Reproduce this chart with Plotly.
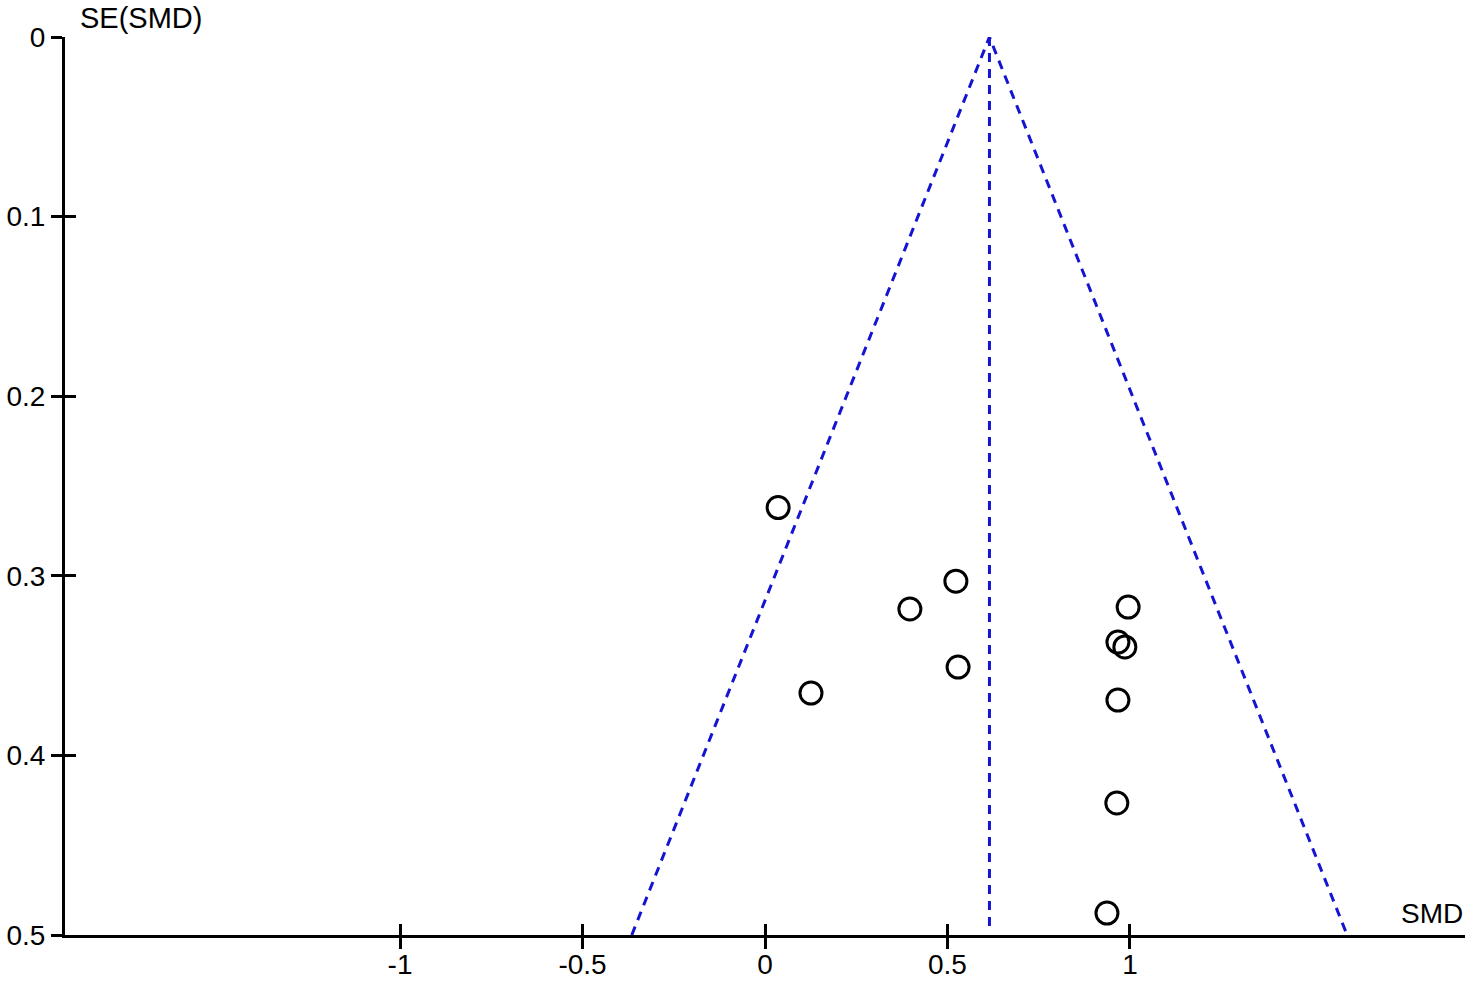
import plotly.graph_objects as go

# Study data
smd = [0.036, 0.523, 0.397, 0.995, 0.967, 0.986, 0.529, 0.126, 0.967, 0.964, 0.937]
se_smd = [0.262, 0.303, 0.3185, 0.3174, 0.3369, 0.3396, 0.3508, 0.3653, 0.3692, 0.4265, 0.4878]

pooled = 0.615
se_max = 0.5
z = 1.96

x_ticks = [-1, -0.5, 0, 0.5, 1]
x_tick_text = ["-1", "-0.5", "0", "0.5", "1"]
y_ticks = [0, 0.1, 0.2, 0.3, 0.4, 0.5]
y_tick_text = ["0", "0.1", "0.2", "0.3", "0.4", "0.5"]

x_range = [-1.918, 1.918]
y_range = [0.5, 0]

FONT = "Liberation Sans, Arial, sans-serif"
BLUE = "#1414d2"
TICKLEN = 11

fig = go.Figure()

# Funnel limits
fig.add_trace(go.Scatter(
    x=[pooled - z * se_max, pooled, pooled + z * se_max],
    y=[se_max, 0, se_max],
    mode="lines", line=dict(color=BLUE, width=3, dash="9px,7px"),
    hoverinfo="skip", showlegend=False))
# Pooled estimate line
fig.add_trace(go.Scatter(
    x=[pooled, pooled], y=[0, se_max * 0.99],
    mode="lines", line=dict(color=BLUE, width=3, dash="9px,7px"),
    hoverinfo="skip", showlegend=False))

# Studies
fig.add_trace(go.Scatter(
    x=smd, y=se_smd, mode="markers",
    marker=dict(symbol="circle-open", size=22, color="black",
                line=dict(color="black", width=3)),
    showlegend=False))

axis_common = dict(showgrid=False, zeroline=False, showline=True,
                   linecolor="black", linewidth=3, tickcolor="black",
                   tickwidth=2.5, ticklen=TICKLEN, automargin=False,
                   tickfont=dict(family=FONT, size=28, color="black"))

fig.update_layout(
    width=1477, height=982,
    paper_bgcolor="white", plot_bgcolor="white",
    margin=dict(l=65, r=12, t=37, b=47, autoexpand=False),
    xaxis=dict(range=x_range, tickvals=x_ticks, ticktext=x_tick_text,
               ticks="outside", anchor="y", ticklabelstandoff=-9,
               **axis_common),
    yaxis=dict(range=y_range, tickvals=y_ticks, ticktext=y_tick_text,
               ticks="outside", anchor="x", **axis_common),
    xaxis2=dict(range=x_range, tickvals=x_ticks, ticks="inside",
                showticklabels=False, overlaying="x", anchor="y",
                showgrid=False, zeroline=False, showline=False,
                automargin=False,
                tickcolor="black", tickwidth=2.5, ticklen=TICKLEN),
    yaxis2=dict(range=y_range, tickvals=y_ticks, ticks="inside",
                showticklabels=False, overlaying="y", anchor="x",
                showgrid=False, zeroline=False, showline=False,
                automargin=False,
                tickcolor="black", tickwidth=2.5, ticklen=TICKLEN),
    annotations=[
        dict(text="SE(SMD)", xref="paper", yref="paper", x=0.0, y=1.0,
             xanchor="left", yanchor="top", xshift=13, yshift=37,
             showarrow=False,
             font=dict(family=FONT, size=29, color="black")),
        dict(text="SMD", xref="paper", yref="paper", x=1.0, y=0.0,
             xanchor="right", yanchor="bottom", yshift=4, showarrow=False,
             font=dict(family=FONT, size=28, color="black")),
    ],
)

# dummy trace to activate overlay axes
fig.add_trace(go.Scatter(x=[None], y=[None], xaxis="x2", yaxis="y2",
                         showlegend=False, hoverinfo="skip"))

fig.write_html("out.html",
               config={"displayModeBar": False},
               post_script="document.body.style.margin='0px';")
